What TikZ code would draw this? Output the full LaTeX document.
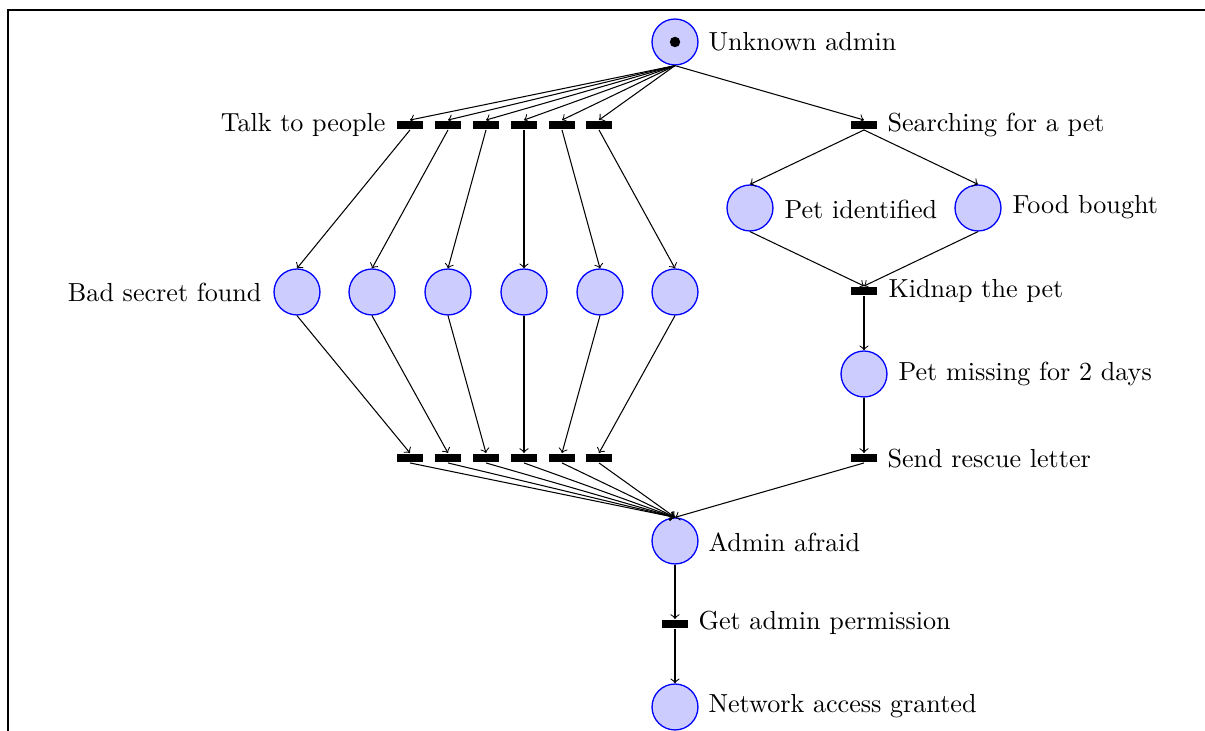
\documentclass[tikz,border=0pt]{standalone}
\begin{document}
\begin{tikzpicture}[x=0.383pt,y=-0.383pt,
  place/.style={circle,draw=blue,fill=blue!20,minimum size=17.6pt,inner sep=0pt,line width=0.5pt},
  trans/.style={rectangle,fill=black,minimum width=10.3pt,minimum height=3.4pt,inner sep=0pt},
  lab/.style={inner sep=0pt},
  arc/.style={->,line width=0.4pt}]
\useasboundingbox (0,0) rectangle (1205,731);
\draw[line width=0.5pt] (8,731) -- (8,10) -- (1205,10);
% places
\node[place] (admin) at (675,42) {};
\fill (admin.center) circle (2pt);
\node[lab,anchor=west] (ladmin) at (708,42) {Unknown admin};
\foreach \i/\x in {1/410,2/448,3/486,4/524,5/562,6/599}{
  \node[trans] (t\i) at (\x,125) {};
  \node[trans] (u\i) at (\x,458) {};
}
\foreach \i/\x in {1/297,2/372,3/448,4/524,5/600,6/675}{
  \node[place] (p\i) at (\x,292) {};
}
\node[lab,anchor=east] (ltalk) at (386,125) {Talk to people};
\node[lab,anchor=east] (lbad) at (262,292) {Bad secret found};
\node[trans] (search) at (864,125) {};
\node[lab,anchor=west] (lsearch) at (887,125) {Searching for a pet};
\node[place] (petid) at (750,208) {};
\node[lab,anchor=west] (lpetid) at (784,209) {Pet identified};
\node[place] (food) at (978,208) {};
\node[lab,anchor=west] (lfood) at (1012,207) {Food bought};
\node[trans] (kidnap) at (864,291) {};
\node[lab,anchor=west] (lkidnap) at (888,291) {Kidnap the pet};
\node[place] (missing) at (864,374) {};
\node[lab,anchor=west] (lmissing) at (898,374) {Pet missing for 2 days};
\node[trans] (send) at (864,458) {};
\node[lab,anchor=west] (lsend) at (887,459) {Send rescue letter};
\node[place] (afraid) at (675,541) {};
\node[lab,anchor=west] (lafraid) at (708,542) {Admin afraid};
\node[trans] (perm) at (675,624) {};
\node[lab,anchor=west] (lperm) at (698,623) {Get admin permission};
\node[place] (granted) at (675,707) {};
\node[lab,anchor=west] (lgranted) at (708,706) {Network access granted};
% arcs
\foreach \i in {1,...,6}{
  \draw[arc] (admin.south) -- (t\i.north);
  \draw[arc] (t\i.south) -- (p\i.north);
  \draw[arc] (p\i.south) -- (u\i.north);
  \draw[arc] (u\i.south) -- (afraid.north);
}
\draw[arc] (admin.south) -- (search.north);
\draw[arc] (search.south) -- (petid.north);
\draw[arc] (search.south) -- (food.north);
\draw[arc] (petid.south) -- (kidnap.north);
\draw[arc] (food.south) -- (kidnap.north);
\draw[arc] (kidnap.south) -- (missing.north);
\draw[arc] (missing.south) -- (send.north);
\draw[arc] (send.south) -- (afraid.north);
\draw[arc] (afraid.south) -- (perm.north);
\draw[arc] (perm.south) -- (granted.north);
\end{tikzpicture}
\end{document}
